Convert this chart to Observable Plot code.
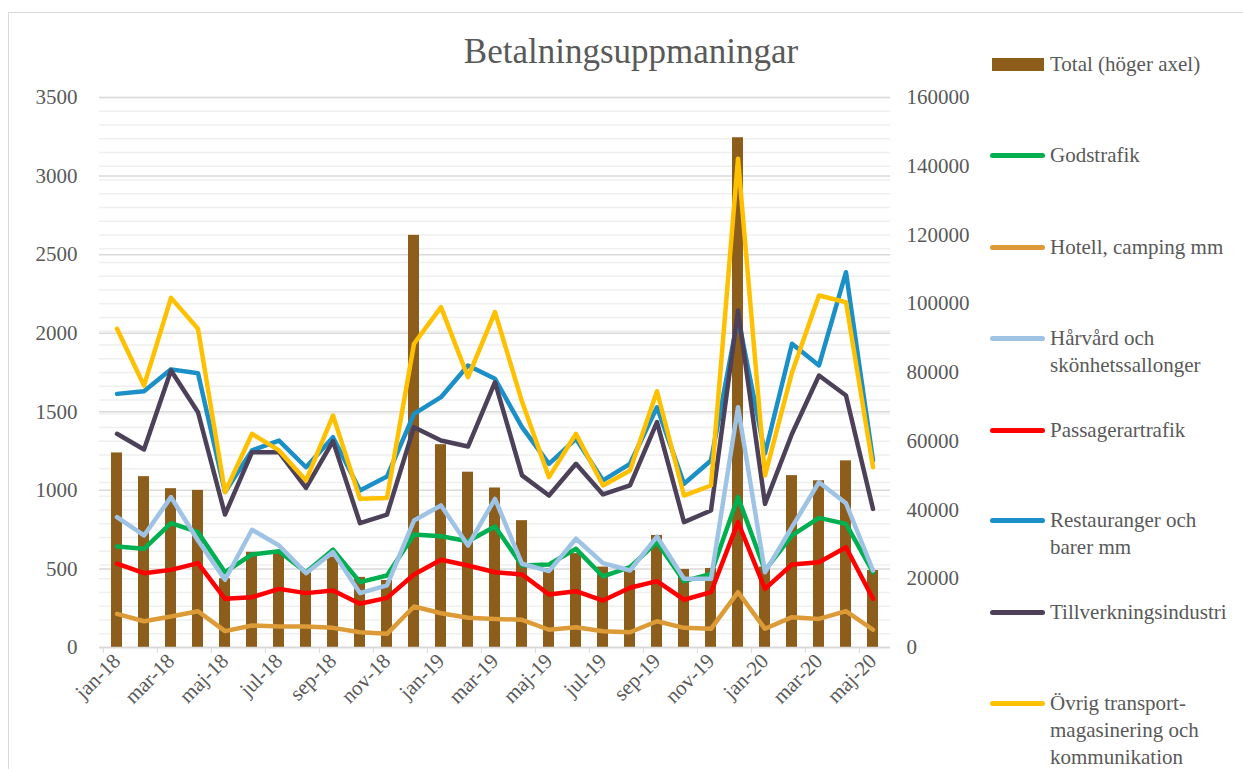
<!DOCTYPE html>
<html>
<head>
<meta charset="utf-8">
<script src="https://cdn.jsdelivr.net/npm/d3@7"></script>
<script src="https://cdn.jsdelivr.net/npm/@observablehq/plot@0.6"></script>
<style>
  html, body { margin: 0; padding: 0; background: #fff; }
  #wrap { position: relative; width: 1243px; height: 769px; overflow: hidden; font-family: "Liberation Serif", serif; color: #595959; }
  #frame { position: absolute; left: 8px; top: 12px; width: 1300px; height: 800px; border-left: 1px solid #d9d9d9; border-top: 1px solid #d9d9d9; }
  #chart { position: absolute; left: 0; top: 0; }
  #title { position: absolute; left: 381px; width: 500px; top: 32px; text-align: center; font-size: 35px; line-height: 40px; }
  .item { position: absolute; left: 990px; font-size: 21px; line-height: 27px; }
  .sw { position: absolute; left: 0; width: 55px; height: 5px; border-radius: 3px; }
  .txt { position: absolute; left: 60px; white-space: nowrap; }
</style>
</head>
<body>
<div id="wrap">
  <div id="frame"></div>
  <div id="chart"></div>
  <div id="title">Betalningsuppmaningar</div>
  <div id="legend"></div>
</div>
<script>
const months = ["jan-18","feb-18","mar-18","apr-18","maj-18","jun-18","jul-18","aug-18","sep-18","okt-18","nov-18","dec-18",
  "jan-19","feb-19","mar-19","apr-19","maj-19","jun-19","jul-19","aug-19","sep-19","okt-19","nov-19","dec-19",
  "jan-20","feb-20","mar-20","apr-20","maj-20"];

const total = [56600, 49700, 46200, 45700, 20000, 27700, 28200, 22400, 26300, 20400, 19500, 119900,
  59000, 51000, 46400, 36900, 23000, 27300, 23400, 22400, 32600, 22700, 23000, 148300,
  23400, 50000, 48500, 54300, 22400];

const godstrafik = [643, 628, 791, 734, 479, 592, 613, 479, 622, 416, 458, 719,
  708, 676, 770, 522, 528, 628, 452, 511, 670, 422, 469, 957, 490, 713, 825, 787, 479];
const hotell = [214, 167, 197, 231, 104, 140, 134, 134, 125, 97, 87, 261,
  218, 189, 182, 176, 113, 129, 104, 97, 167, 125, 119, 352, 119, 193, 182, 231, 113];
const harvard = [829, 713, 957, 681, 431, 749, 649, 473, 607, 346, 395, 808,
  904, 649, 946, 533, 486, 692, 537, 490, 706, 437, 437, 1529, 479, 766, 1052, 918, 490];
const passagerar = [533, 473, 494, 537, 310, 320, 373, 346, 363, 278, 316, 465,
  558, 522, 479, 465, 337, 358, 299, 380, 422, 304, 352, 798, 373, 528, 543, 638, 310];
const restauranger = [1614, 1631, 1770, 1745, 990, 1254, 1317, 1147, 1338, 999, 1088, 1487,
  1593, 1795, 1710, 1402, 1169, 1328, 1063, 1169, 1529, 1042, 1190, 2100, 1234, 1933, 1795, 2388, 1190];
const tillverkning = [1360, 1260, 1763, 1497, 846, 1243, 1243, 1016, 1313, 791, 846, 1402,
  1317, 1279, 1688, 1095, 967, 1169, 974, 1031, 1434, 798, 872, 2145, 914, 1360, 1731, 1604, 882];
const ovrig = [2028, 1667, 2225, 2028, 988, 1360, 1254, 1063, 1476, 946, 952, 1933,
  2166, 1720, 2134, 1565, 1084, 1360, 1031, 1126, 1631, 967, 1031, 3110, 1095, 1750, 2240, 2197, 1147];

const seriesNames = ["Godstrafik", "Hotell, camping mm", "Hårvård och\nskönhetssallonger", "Passagerartrafik",
  "Restauranger och\nbarer mm", "Tillverkningsindustri", "Övrig transport-\nmagasinering och\nkommunikation"];
const seriesValues = [godstrafik, hotell, harvard, passagerar, restauranger, tillverkning, ovrig];
const seriesColors = ["#00b050", "#dd9b38", "#9fc3e5", "#ff0000", "#1a8fc8", "#4d4159", "#ffc000"];
const totalName = "Total (höger axel)";
const totalColor = "#8c5d1b";

const leftTicks = [0, 500, 1000, 1500, 2000, 2500, 3000, 3500];
const rightTicks = [0, 20000, 40000, 60000, 80000, 100000, 120000, 140000, 160000];

const W = 1243, H = 769, mL = 99, mR = 353, mT = 97, mB = 122;
const k = 3500 / 160000;
const step = (W - mL - mR) / months.length;

const bars = months.map((m, i) => ({m, v: total[i] * k}));
const lines = seriesNames.flatMap((name, s) => months.map((m, i) => ({m, v: seriesValues[s][i], name})));
const labelMonths = months.filter((d, i) => i % 2 === 0);

const chart = Plot.plot({
  width: W, height: H,
  marginLeft: mL, marginRight: mR, marginTop: mT, marginBottom: mB,
  style: {fontFamily: "Liberation Serif, serif", fontSize: "21px", color: "#595959", background: "transparent", overflow: "visible"},
  x: {domain: months, paddingInner: 0.586, paddingOuter: 0.293, axis: null, label: null},
  y: {domain: [0, 3500], axis: null, label: null},
  color: {domain: seriesNames, range: seriesColors},
  marks: [
    Plot.ruleY(d3.range(0, 160001, 4000).map(v => v * k), {stroke: "#efefef", strokeWidth: 1.5}),
    Plot.ruleY(leftTicks, {stroke: "#d9d9d9", strokeWidth: 1.5}),
    Plot.axisY({ticks: leftTicks, tickFormat: d => String(d), tickSize: 0, tickPadding: 22, fontSize: 21, label: null}),
    Plot.axisY({anchor: "right", ticks: rightTicks.map(v => v * k), tickFormat: d => String(Math.round(d / k)), tickSize: 0, tickPadding: 16, fontSize: 21, label: null}),
    Plot.barY(bars, {x: "m", y: "v", fill: totalColor}),
    Plot.line(lines, {x: "m", y: "v", z: "name", stroke: "name", strokeWidth: 4.5, strokeLinejoin: "round", strokeLinecap: "round"}),
    Plot.ruleY([0], {stroke: "#d9d9d9", strokeWidth: 1.5}),
    Plot.axisX({ticks: labelMonths, tickSize: 0, tickRotate: -45, tickPadding: 10, fontSize: 21, fill: "#595959", label: null}),
    Plot.axisX({ticks: labelMonths, tickSize: 6, tickFormat: () => "", dx: -step / 2, stroke: "#d9d9d9", label: null})
  ]
});
document.getElementById("chart").appendChild(chart);

// Legend
const legend = document.getElementById("legend");
const legendY = [64, 155, 247, 338, 430, 520, 612, 703];
const items = [{name: totalName, color: totalColor, bar: true}].concat(seriesNames.map((n, i) => ({name: n, color: seriesColors[i]})));
items.forEach((it, i) => {
  const d = document.createElement("div");
  d.className = "item";
  d.style.top = (legendY[i] - 13.5) + "px";
  const sw = document.createElement("div");
  sw.className = "sw";
  sw.style.background = it.color;
  if (it.bar) { sw.style.left = "2px"; sw.style.width = "52px"; sw.style.height = "13px"; sw.style.top = "7px"; sw.style.borderRadius = "0"; }
  else { sw.style.top = "11px"; }
  const t = document.createElement("div");
  t.className = "txt";
  t.innerHTML = it.name.split("\n").join("<br>");
  d.appendChild(sw); d.appendChild(t);
  legend.appendChild(d);
});
</script>
</body>
</html>
